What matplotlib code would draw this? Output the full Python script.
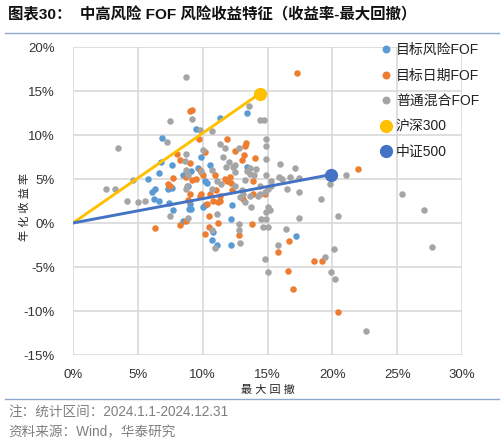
import matplotlib
matplotlib.use("Agg")
import matplotlib.pyplot as plt
from matplotlib.lines import Line2D
from matplotlib.ticker import FuncFormatter

plt.rcParams['font.family'] = ['Liberation Sans', 'Noto Sans CJK SC', 'DejaVu Sans']

# ---- data (max drawdown %, annualised return %) ----
risk_x = [11.3, 13.4, 6.9, 9.45, 9.9, 6.8, 7.6, 9.65, 10.6, 13.4, 8.5, 6.6, 5.75, 7.3, 7.6,
          6.35, 6.1, 10.2, 6.25, 6.6, 9.0, 7.4, 8.95, 10.0, 10.3, 10.2, 12.3, 12.2, 10.8, 10.7,
          11.1, 12.2, 17.2, 8.45, 7.7, 9.1, 8.85, 9.1]
risk_y = [11.9, 12.5, 9.7, 10.65, 7.55, 6.95, 6.6, 6.3, 6.6, 6.4, 5.45, 5.65, 4.95, 3.9, 3.95,
          3.9, 3.5, 4.75, 2.75, 2.5, 2.2, 2.3, 1.6, 1.85, 4.6, 2.0, 2.0, 0.5, -1.0, -1.9,
          -2.45, -2.5, -1.45, 0.2, 1.45, 1.55, 4.25, 5.9]

date_x = [9.0, 9.15, 17.3, 9.75, 11.9, 12.5, 13.35, 13.3, 13.2, 14.0, 13.05, 10.2, 8.05, 8.25,
          9.0, 9.8, 9.9, 8.7, 9.15, 9.5, 7.35, 7.5, 7.7, 9.8, 9.9, 8.9, 8.7, 8.25, 6.35, 10.2,
          10.05, 10.95, 11.7, 11.85, 12.1, 12.2, 13.9, 12.3, 13.1, 13.9, 14.8, 11.05, 11.3,
          11.2, 10.8, 10.55, 10.3, 11.35, 10.5, 11.2, 13.8, 10.5, 12.8, 16.65, 15.8, 16.6,
          18.55, 19.2, 17.0, 20.4, 22.0, 9.0]
date_y = [12.7, 12.8, 17.1, 9.6, 9.6, 8.2, 9.05, 8.75, 7.75, 7.35, 7.15, 8.1, 7.8, 7.2,
          6.8, 6.0, 5.75, 5.2, 4.9, 5.0, 4.45, 4.25, 5.1, 3.1, 3.3, 2.65, 0.2, -0.2, -0.55, -1.2,
          5.4, 5.4, 5.0, 4.8, 5.2, 4.6, 4.8, 3.7, 2.75, 3.3, 3.3, 3.7, 3.1,
          2.4, 2.55, 3.3, 2.2, 2.55, 0.8, -0.05, -0.1, -0.45, -1.4, -2.1, -3.35, -5.45,
          -4.35, -4.35, -7.55, -10.1, 6.15, 3.3]

mix_x = [8.75, 9.15, 13.6, 14.45, 14.7, 7.45, 3.5, 7.25, 9.8, 10.75, 11.3, 11.75, 12.8, 14.9,
         14.9, 14.85, 11.55, 12.05, 12.5, 10.05, 8.7, 8.65, 13.65, 15.95, 17.1, 8.75, 4.65,
         2.55, 3.25, 8.75, 8.8, 4.15, 5.0, 5.55, 7.5, 8.9, 9.9, 10.75, 12.35, 12.5, 13.4,
         13.65, 13.95, 14.15, 11.1, 13.25, 15.3, 15.9, 16.1, 16.7, 17.4, 14.9, 16.5, 17.4,
         15.3, 15.05, 14.8, 14.4, 13.0, 12.85, 13.1, 13.65, 14.3, 11.45, 12.5, 10.75, 13.75,
         15.05, 15.2, 14.9, 11.1, 14.5, 14.9, 14.65, 15.05, 12.8, 17.4, 16.4, 10.7, 12.8,
         12.85, 10.95, 15.8, 14.8, 15.05, 19.15, 27.1, 20.4, 20.1, 27.7, 19.45, 19.9, 20.2,
         22.6, 19.8, 21.05, 25.4, 13.25, 8.9, 14.4, 11.8]
mix_y = [16.6, 11.8, 13.3, 11.7, 11.7, 11.6, 8.5, 9.15, 10.6, 10.5, 8.95, 8.5, 8.5, 9.6,
         8.8, 7.3, 7.5, 6.9, 6.6, 8.25, 7.85, 7.0, 6.25, 6.65, 6.3, 6.05, 4.9,
         3.9, 3.9, 3.9, 4.25, 2.45, 2.35, 2.55, 0.85, 0.6, 5.95, 6.0, 6.35, 5.75, 5.95,
         5.6, 5.4, 6.15, 4.8, 4.9, 4.8, 5.2, 5.0, 5.2, 5.1, 5.4, 3.9, 3.5,
         4.25, 3.9, 3.5, 3.3, 3.7, 2.95, 3.3, 3.1, 3.1, 4.45, 4.25, 3.9, 1.8,
         1.8, 1.45, 1.25, 1.05, 0.5, 0.5, -0.4, -0.45, -0.1, 0.55, -0.65, -0.85, -0.85,
         -2.25, -2.8, -2.55, -4.05, -5.6, 2.7, 1.5, 0.85, -2.9, -2.7, -3.9, -5.6, -6.4,
         -12.3, 4.45, 5.5, 3.3, 2.4, 5.4, 4.25, 6.4]

hs300 = (14.4, 14.7)
zz500 = (19.9, 5.5)

series_names = ['目标风险FOF', '目标日期FOF', '普通混合FOF', '沪深300', '中证500']
x_ticks = [0, 5, 10, 15, 20, 25, 30]
y_ticks = [-15, -10, -5, 0, 5, 10, 15, 20]

c_risk, c_date, c_mix = '#5B9BD5', '#ED7D31', '#A5A5A5'
c_hs, c_zz = '#FFC000', '#4472C4'

fig = plt.figure(figsize=(5.04, 4.44), dpi=100)
ax = fig.add_axes([73/504, 1-355/444, (462-73)/504, (355-47)/444])

dot = 22
ax.scatter(risk_x, risk_y, s=dot, color=c_risk, lw=0, zorder=3)
ax.scatter(date_x, date_y, s=dot, color=c_date, lw=0, zorder=3)
ax.scatter(mix_x, mix_y, s=dot, color=c_mix, lw=0, zorder=3)
ax.plot([0, hs300[0]], [0, hs300[1]], color=c_hs, lw=2.1, zorder=4)
ax.plot([0, zz500[0]], [0, zz500[1]], color=c_zz, lw=2.1, zorder=4)
ax.plot([hs300[0]], [hs300[1]], 'o', color=c_hs, ms=8.5, zorder=5)
ax.plot([zz500[0]], [zz500[1]], 'o', color=c_zz, ms=8.5, zorder=5)

ax.set_xlim(0, 30)
ax.set_ylim(-15, 20)
ax.set_xticks(x_ticks)
ax.set_yticks(y_ticks)
pct = FuncFormatter(lambda v, p: f'{v:.0f}%')
ax.xaxis.set_major_formatter(pct)
ax.yaxis.set_major_formatter(pct)
ax.grid(True, color='#D9D9D9', lw=1.2, zorder=0)
ax.set_axisbelow(True)
for s in ax.spines.values():
    s.set_visible(False)
ax.tick_params(length=0, labelsize=9.5, colors='#333333')
ax.tick_params(axis='x', pad=10)
ax.tick_params(axis='y', pad=13)

ax.set_xlabel('最 大 回 撤', fontsize=8, color='#222222')
ax.xaxis.set_label_coords(0.501, -0.097)
ax.set_ylabel('年 化 收 益 率', fontsize=8, color='#222222')
ax.yaxis.set_label_coords(-0.11, 0.48)

handles = [
    Line2D([], [], ls='', marker='o', ms=4.7, color=c_risk),
    Line2D([], [], ls='', marker='o', ms=4.7, color=c_date),
    Line2D([], [], ls='', marker='o', ms=4.7, color=c_mix),
    Line2D([], [], ls='', marker='o', ms=8.5, color=c_hs),
    Line2D([], [], ls='', marker='o', ms=8.5, color=c_zz),
]
leg = ax.legend(handles, series_names, loc='upper left', bbox_to_anchor=(0.78, 1.03),
                frameon=False, fontsize=10, handlelength=0.6, handletextpad=0.4,
                labelspacing=0.82, borderaxespad=0)
for t in leg.get_texts():
    t.set_color('#222222')

fig.text(8/504, 1-15/444, '图表30：  中高风险 FOF 风险收益特征（收益率-最大回撤）',
         fontsize=11.1, fontweight='bold', va='center', ha='left', color='#111111')
fig.add_artist(Line2D([5/504, 499/504], [1-33/444, 1-33/444], color='#8EA9CB', lw=1.0))
fig.add_artist(Line2D([5/504, 499/504], [1-399/444, 1-399/444], color='#8EA9CB', lw=1.0))
fig.text(8/504, 1-412/444, '注：统计区间：2024.1.1-2024.12.31', fontsize=9.8,
         va='center', ha='left', color='#7F7F7F')
fig.text(8/504, 1-432/444, '资料来源：Wind，华泰研究', fontsize=9.8,
         va='center', ha='left', color='#7F7F7F')

fig.savefig('out.png', dpi=100)
